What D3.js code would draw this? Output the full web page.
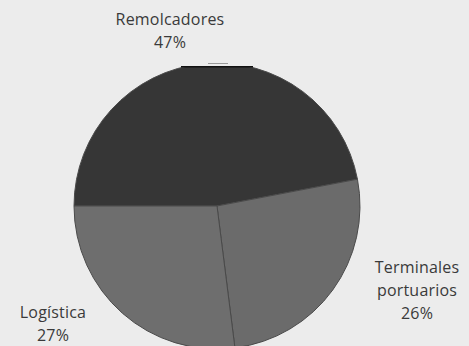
<!DOCTYPE html>
<html><head><meta charset="utf-8">
<script src="https://cdn.jsdelivr.net/npm/d3@7"></script>
<style>html,body{margin:0;padding:0;background:#ececec;}svg{display:block}</style>
</head><body>
<svg id="c" width="469" height="346"></svg>
<script>
const categories = ["Remolcadores", "Terminales portuarios", "Logística"];
const values = [47, 26, 27];
const labelLines = [["Remolcadores", "47%"], ["Terminales", "portuarios", "26%"], ["Logística", "27%"]];
const colors = ["#363636", "#6b6b6b", "#6e6e6e"];

const W = 469, H = 346;
const cx = 217, cy = 206, R = 143;
const svg = d3.select("#c");
svg.append("rect").attr("width", W).attr("height", H).attr("fill", "#ececec");

const pie = d3.pie().sort(null).startAngle(-Math.PI/2).endAngle(1.5*Math.PI)(values);
const arc = d3.arc().innerRadius(0).outerRadius(R);
const g = svg.append("g").attr("transform", `translate(${cx},${cy})`);
g.selectAll("path").data(pie).join("path")
  .attr("d", arc).attr("fill", (d,i) => colors[i])
  .attr("stroke", "#4a4a4a").attr("stroke-width", 1);

// clip strip at the very top of the pie (as in the scan)
svg.append("rect").attr("x", cx - 60).attr("y", cy - R - 1).attr("width", 120).attr("height", 4).attr("fill", "#ececec");
svg.append("rect").attr("x", cx - 9).attr("y", cy - R).attr("width", 20).attr("height", 1).attr("fill", "#9a9a9a");
svg.append("rect").attr("x", cx - 36).attr("y", cy - R + 3).attr("width", 72).attr("height", 1.5).attr("fill", "#111");

const pos = [[170, 19], [417, 267], [53, 312]];
const lh = 23;
labelLines.forEach((lines, i) => {
  const t = svg.append("text").attr("text-anchor", "middle")
    .attr("font-family", "'Open Sans', sans-serif").attr("font-size", 16)
    .attr("letter-spacing", 0.2).attr("fill", "#3a3a3a");
  lines.forEach((s, j) => {
    t.append("tspan").attr("x", pos[i][0]).attr("y", pos[i][1] + j*lh).attr("dy", "0.35em").text(s);
  });
});
</script>
</body></html>
